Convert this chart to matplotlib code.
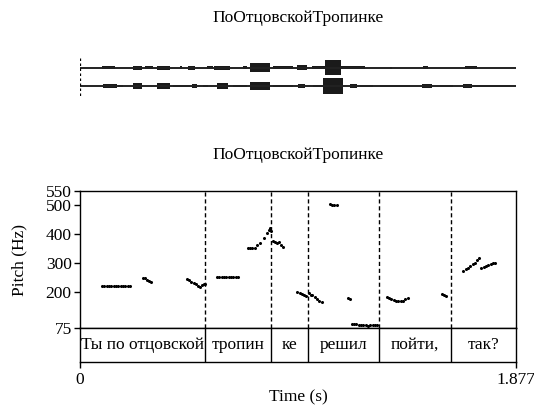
import matplotlib
matplotlib.use("Agg")
import matplotlib.pyplot as plt

plt.rcParams['font.family'] = ['Liberation Serif', 'DejaVu Serif']

title = "ПоОтцовскойТропинке"
duration = 1.877

# Waveform bursts: (start s, end s, half-amplitude)
ch1_bursts = [
    (0.093, 0.151, 1.3), (0.228, 0.267, 2.0), (0.280, 0.314, 1.7), (0.330, 0.387, 2.0),
    (0.430, 0.441, 1.7), (0.465, 0.495, 2.0), (0.545, 0.573, 1.7), (0.577, 0.646, 2.0),
    (0.701, 0.719, 1.3), (0.732, 0.818, 4.3), (0.830, 0.916, 1.3), (0.933, 0.976, 2.3),
    (0.998, 1.062, 1.3), (1.055, 1.124, 7.3), (1.124, 1.227, 1.7), (1.334, 1.342, 1.0),
    (1.476, 1.498, 1.7), (1.657, 1.708, 1.7),
]
ch2_bursts = [
    (0.099, 0.159, 1.7), (0.165, 0.186, 0.7), (0.228, 0.267, 2.7), (0.330, 0.387, 2.7),
    (0.402, 0.474, 1.3), (0.481, 0.502, 2.3), (0.531, 0.552, 1.0), (0.588, 0.638, 2.7),
    (0.659, 0.719, 0.7), (0.732, 0.818, 4.3), (0.830, 0.916, 1.3), (0.940, 0.969, 2.3),
    (1.004, 1.047, 1.0), (1.047, 1.134, 8.3), (1.162, 1.191, 2.0), (1.205, 1.263, 1.0),
    (1.291, 1.421, 0.7), (1.471, 1.514, 1.7), (1.550, 1.607, 0.7), (1.650, 1.686, 2.3),
    (1.693, 1.851, 0.7),
]

# Pitch track (time s, Hz)
pitch_t = [
    0.095, 0.105, 0.115, 0.125, 0.135, 0.145, 0.155, 0.165, 0.175, 0.185, 0.195, 0.205, 0.215,
    0.270, 0.279, 0.288, 0.296, 0.304,
    0.460, 0.470, 0.480, 0.490, 0.500, 0.510, 0.518, 0.525, 0.532, 0.538,
    0.590, 0.600, 0.610, 0.620, 0.630, 0.640, 0.650, 0.660, 0.670, 0.680,
    0.722, 0.732, 0.742, 0.752, 0.762, 0.776, 0.792, 0.805, 0.812, 0.818, 0.822,
    0.830, 0.840, 0.850, 0.858, 0.866, 0.874,
    0.935, 0.945, 0.955, 0.965, 0.975,
    0.985, 0.993, 1.000, 1.010, 1.020, 1.030, 1.040,
    1.075, 1.085, 1.095, 1.105,
    1.155, 1.162,
    1.170, 1.180, 1.190, 1.200, 1.210, 1.220, 1.230, 1.240, 1.250, 1.260, 1.270, 1.280,
    1.320, 1.330, 1.340, 1.350, 1.360, 1.370, 1.380, 1.390, 1.400, 1.410,
    1.558, 1.566, 1.574,
    1.650, 1.660, 1.670, 1.680, 1.690, 1.700, 1.710, 1.718,
    1.728, 1.738, 1.748, 1.758, 1.768, 1.778, 1.788,
]
pitch_hz = [
    222, 221, 220, 222, 221, 220, 219, 221, 220, 219, 220, 219, 220,
    250, 248, 243, 238, 233,
    244, 240, 236, 232, 228, 222, 218, 224, 228, 229,
    251, 252, 251, 253, 252, 251, 252, 251, 252, 251,
    352, 351, 352, 353, 362, 370, 386, 405, 415, 422, 412,
    378, 372, 368, 372, 362, 356,
    199, 196, 192, 188, 187,
    195, 190, 188, 182, 176, 170, 165,
    504, 503, 503, 502,
    179, 177,
    90, 89, 88, 86, 87, 86, 84, 83, 85, 84, 85, 84,
    181, 180, 176, 171, 168, 167, 168, 170, 174, 178,
    194, 190, 185,
    272, 278, 284, 290, 296, 302, 310, 318,
    283, 285, 290, 294, 296, 299, 302,
]

# Text tier
boundaries = [0.538, 0.822, 0.981, 1.287, 1.597]
words = ["Ты по отцовской", "тропин", "ке", "решил", "пойти,", "так?"]

y_ticks = [75, 200, 300, 400, 500, 550]

W, H = 534, 407
fig = plt.figure(figsize=(W / 100, H / 100), dpi=100)

def rect(x0, y0, x1, y1):
    return [x0 / W, 1 - y1 / H, (x1 - x0) / W, (y1 - y0) / H]

fs = 12.5

# Waveform
fig.text(298 / W, 1 - 18 / H, title, ha='center', va='center', fontsize=fs)
axw = fig.add_axes(rect(80, 53, 516, 101))
axw.set_xlim(0, duration)
axw.set_ylim(-33.3, 14.7)
axw.axis('off')
for base, bursts in ((0.0, ch1_bursts), (-18.3, ch2_bursts)):
    axw.plot([0, duration], [base, base], color='#222222', lw=1.4, solid_capstyle='butt')
    for t0, t1, a in bursts:
        axw.fill_between([t0, t1], [base - a, base - a], [base + a, base + a],
                         color='#1a1a1a', lw=0)
axw.plot([0, 0], [10, -28.3], color='black', lw=0.9, ls=(0, (2, 2)))

# Pitch
fig.text(298 / W, 1 - 155 / H, title, ha='center', va='center', fontsize=fs)
axp = fig.add_axes(rect(80, 191, 516, 328))
axp.set_xlim(0, duration)
axp.set_ylim(75, 550)
axp.plot(pitch_t, pitch_hz, ls='none', marker='o', ms=1.2, color='black')
for b in boundaries:
    axp.axvline(b, color='black', lw=1.0, ls=(0, (3, 2)))
axp.set_yticks(y_ticks)
axp.set_yticklabels([str(v) for v in y_ticks], fontsize=fs)
axp.set_xticks([])
axp.tick_params(axis='y', direction='out', length=4, width=1, pad=2)
for s in axp.spines.values():
    s.set_linewidth(1.0)
axp.set_ylabel("Pitch (Hz)", fontsize=fs, labelpad=13)

# Tier
axt = fig.add_axes(rect(80, 328, 516, 362))
axt.set_xlim(0, duration)
axt.set_ylim(0, 1)
axt.set_yticks([])
for s in axt.spines.values():
    s.set_linewidth(1.0)
edges = [0.0] + boundaries + [duration]
for b in boundaries:
    axt.axvline(b, color='black', lw=1.0)
for i, w in enumerate(words):
    axt.text((edges[i] + edges[i + 1]) / 2, 0.5, w, ha='center', va='center', fontsize=fs)
axt.set_xticks([0, duration])
axt.set_xticklabels(["0", "1.877"], fontsize=fs)
axt.tick_params(axis='x', direction='out', length=4, width=1, pad=3)
axt.set_xlabel("Time (s)", fontsize=fs, labelpad=1)

fig.savefig("out.png", dpi=100)
